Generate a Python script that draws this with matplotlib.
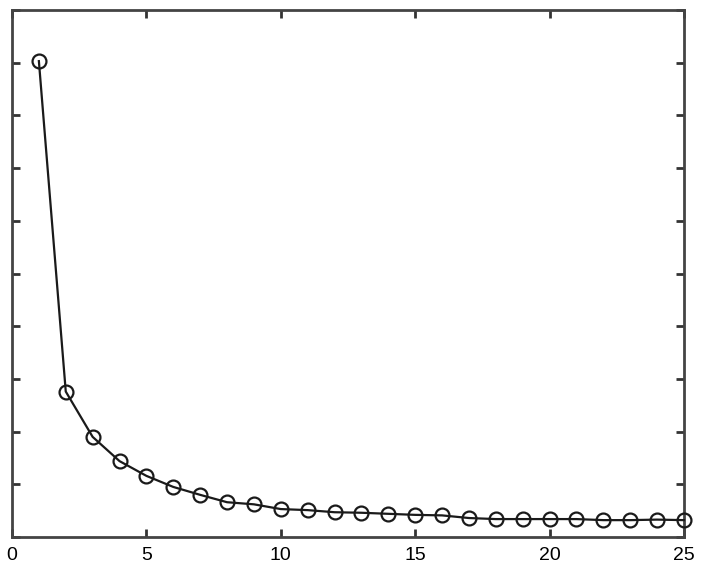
import matplotlib.pyplot as plt
import numpy as np

plt.rcParams['font.family'] = ['Liberation Sans', 'DejaVu Sans']

# values (y axis scale assumed 0..1)
iters = np.arange(1, 26)
vals = [0.903, 0.276, 0.190, 0.144, 0.116, 0.095, 0.080, 0.066, 0.062, 0.053,
        0.051, 0.047, 0.046, 0.044, 0.042, 0.041, 0.036, 0.034, 0.034, 0.034,
        0.034, 0.032, 0.032, 0.033, 0.032]
xticks = [0, 5, 10, 15, 20, 25]
yticks = np.arange(0, 1.01, 0.1)

fig = plt.figure(figsize=(7.08, 5.84), dpi=100)
ax = fig.add_axes([12/708, 1 - 537/584, 672/708, 527/584])

ax.plot(iters, vals, '-o', color='#1a1a1a', lw=1.6, ms=10, mfc='none',
        mec='#1a1a1a', mew=1.6, clip_on=False, zorder=3)

ax.set_xlim(0, 25)
ax.set_ylim(0, 1)
ax.set_xticks(xticks)
ax.set_yticks(yticks)
ax.set_yticklabels([])
ax.tick_params(direction='in', length=6, width=2, color='#333333',
               top=True, right=True, labelsize=14, pad=7)
for s in ax.spines.values():
    s.set_linewidth(2)
    s.set_color('#444444')

plt.savefig('out.png', dpi=100)
